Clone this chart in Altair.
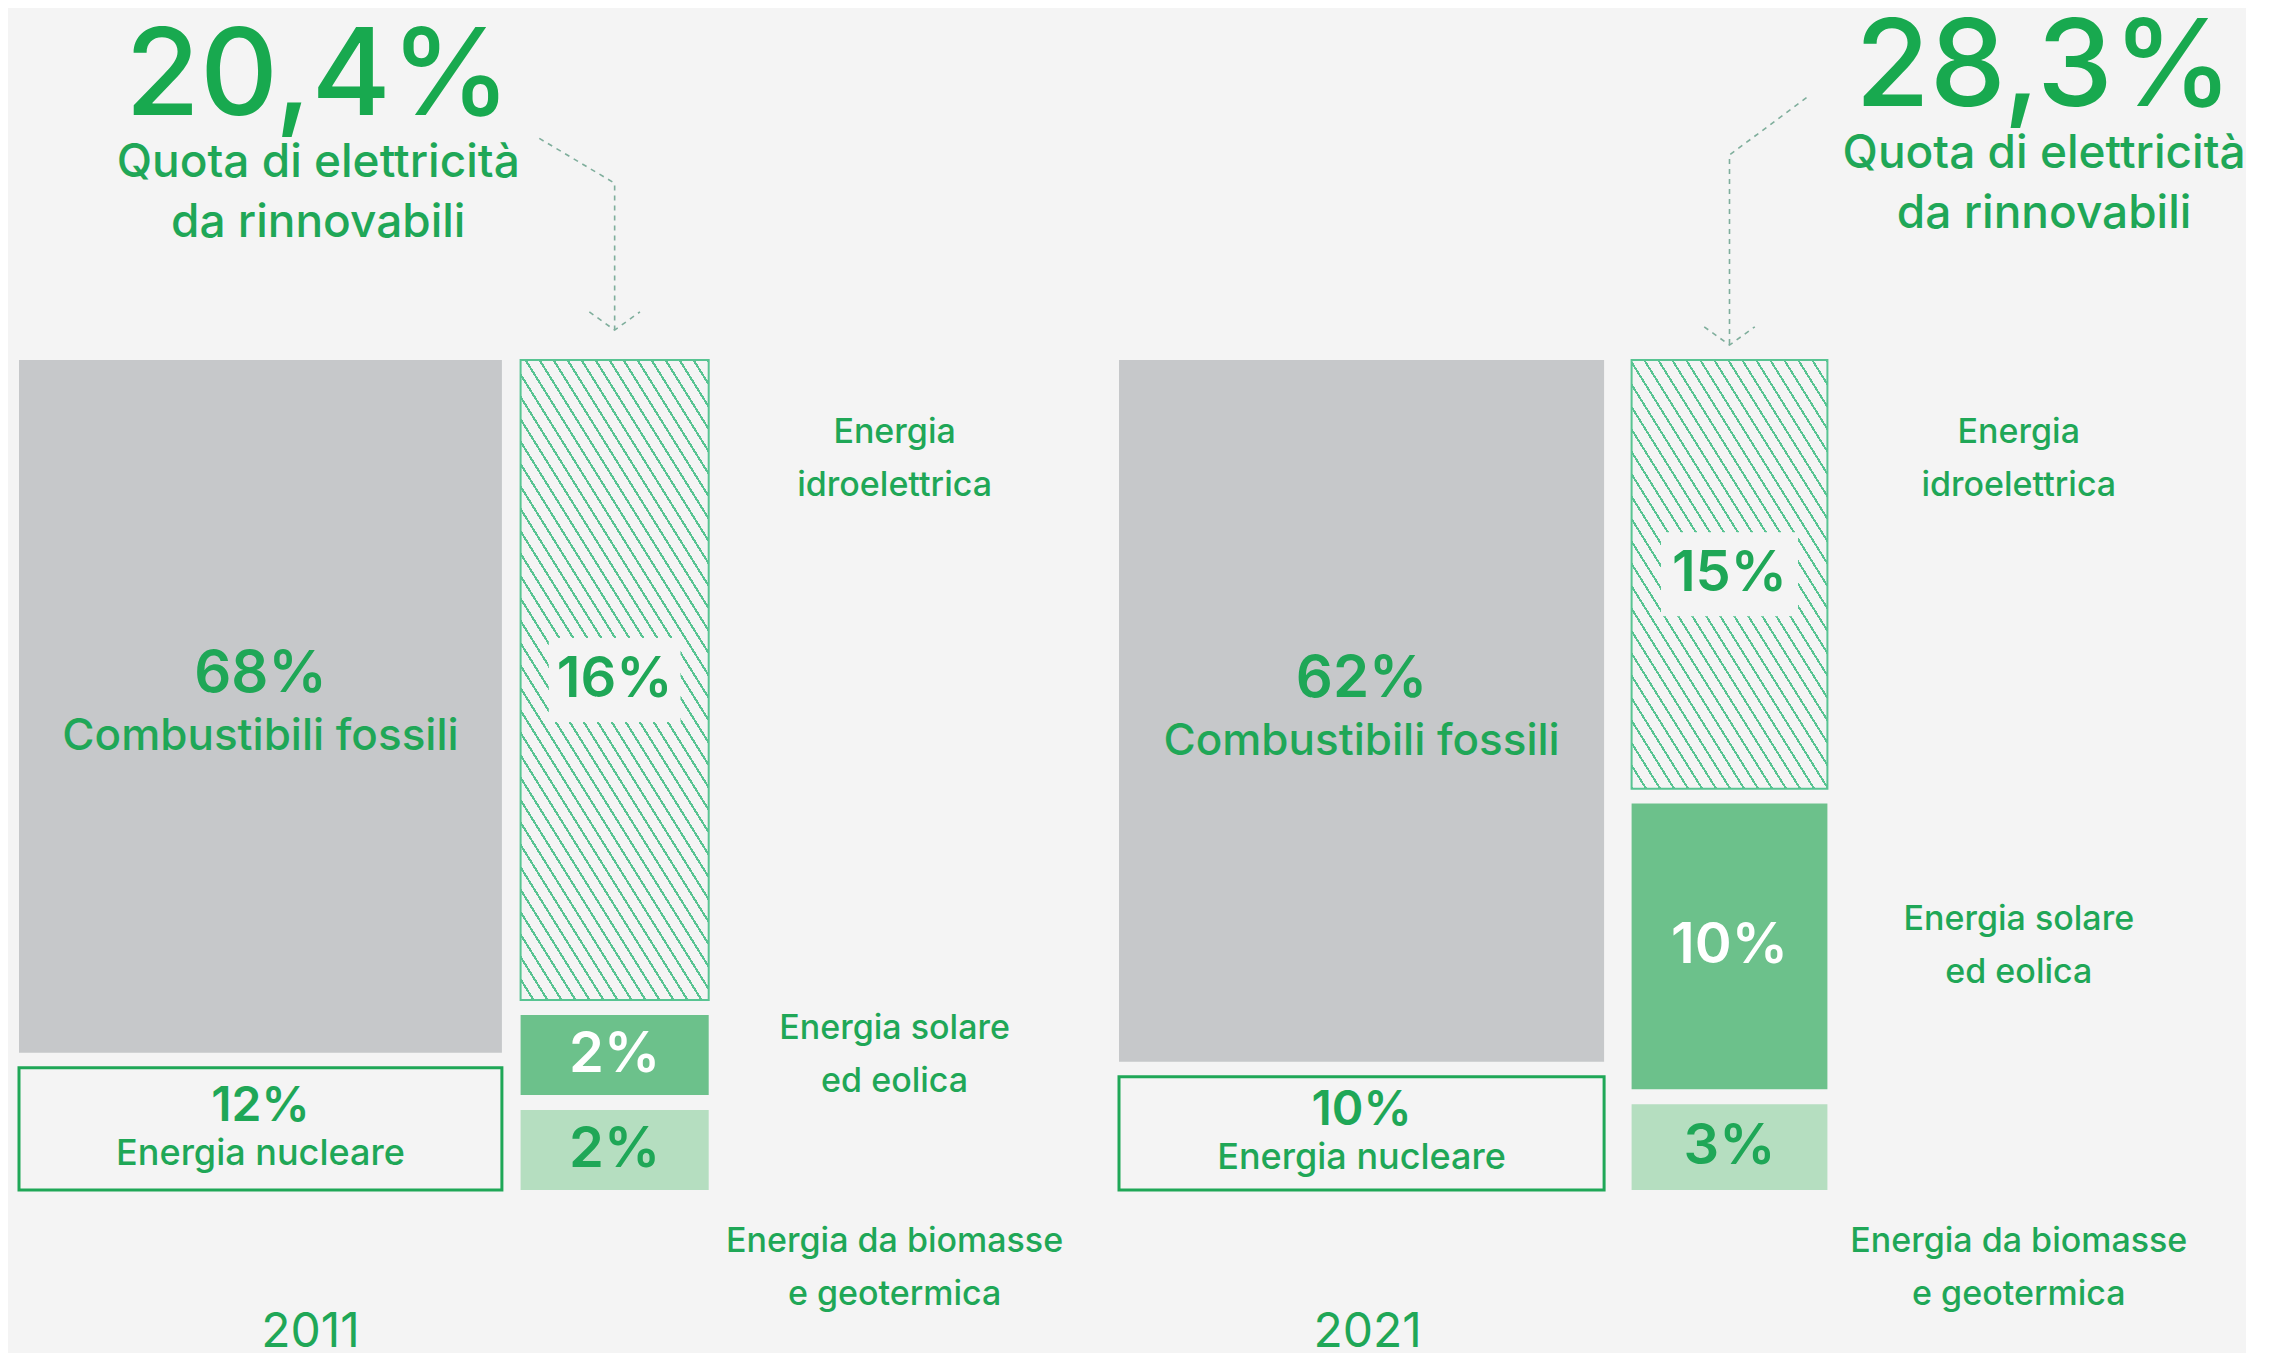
import altair as alt
import pandas as pd

# ---------------- dati ----------------
ANNI = ["2011", "2021"]
QUOTA_RINNOVABILI = ["20,4%", "28,3%"]
SOTTOTITOLO = ["Quota di elettricità", "da rinnovabili"]
CATEGORIE = ["Combustibili fossili", "Energia nucleare", "Energia idroelettrica",
             "Energia solare ed eolica", "Energia da biomasse e geotermica"]
ETICHETTE = ["Combustibili fossili", "Energia nucleare", "Energia\nidroelettrica",
             "Energia solare\ned eolica", "Energia da biomasse\ne geotermica"]
COLONNA = ["sx", "sx", "dx", "dx", "dx"]
ORDINE = [1, 2, 1, 2, 3]
VALORI_2011 = [68, 12, 16, 2, 2]
VALORI_2021 = [62, 10, 15, 10, 3]
VALORI = [VALORI_2011, VALORI_2021]

# ---------------- stile / layout ----------------
BG = "#f4f4f4"
VERDE = "#1fa757"
VERDE_TITOLO = "#18a94f"
GRIGIO = "#c6c8ca"
SOLARE = "#6cc18b"
BIOMASSE = "#b5dec0"
TRATTEGGIO = "#58c492"
FRECCIA = "#7fae9c"
FONT = "Inter"

PANEL_W = 1100
PANEL_H = 1337
GAP = 1.8                     # spazio tra i blocchi (unità di colonna)
X_DOMAIN = [0, 100]
Y_DOMAIN = [-18.675, 142.41]  # 0..100 = altezza delle colonne
LINE_H = 53
ANCORA = {"Energia idroelettrica": "alto", "Energia solare ed eolica": "centro",
          "Energia da biomasse e geotermica": "sotto"}
LAYOUT = {
    "2011": {"sx": (1.0, 44.9), "dx": (46.6, 63.7), "label_x": 80.6, "year_x": 27.5,
             "head_x": 28.2, "head_y": 129.5, "arrow_start": (48.3, 126.7), "knee_y": 121.3,
             "tip_y": 103.6},
    "2021": {"sx": (1.0, 45.1), "dx": (47.6, 65.4), "label_x": 82.8, "year_x": 23.6,
             "head_x": 85.1, "head_y": 130.6, "arrow_start": (63.5, 131.6), "knee_y": 124.7,
             "tip_y": 101.8},
}
SLOPE = 1.6        # pendenza del tratteggio
HATCH_STEP = 14.0  # passo orizzontale (px)
HATCH_LINE = 2.4   # spessore orizzontale (px)

xs = alt.Scale(domain=X_DOMAIN, nice=False, zero=False)
ys = alt.Scale(domain=Y_DOMAIN, nice=False, zero=False)


def hatch_gradient(i):
    anno = ANNI[i]
    vals = VALORI[i]
    dx_tot = sum(v for v, c in zip(vals, COLONNA) if c == "dx")
    n_dx = COLONNA.count("dx")
    disp = 100 - (n_dx - 1) * GAP
    h_units = vals[2] / dx_tot * disp
    h_px = h_units * PANEL_H / (Y_DOMAIN[1] - Y_DOMAIN[0])
    x0, x1 = LAYOUT[anno]["dx"]
    w_px = (x1 - x0) * PANEL_W / (X_DOMAIN[1] - X_DOMAIN[0])
    k = SLOPE * w_px / h_px
    c = (k + 1) / (k * k + 1)
    dt = k / (k + 1) * HATCH_STEP / w_px
    f = HATCH_LINE / HATCH_STEP
    stops = []
    t = 0.0
    while t < 1:
        a = round(t, 5)
        b = round(min(t + f * dt, 1), 5)
        e = round(min(t + dt, 1), 5)
        stops += [{"offset": a, "color": TRATTEGGIO}, {"offset": b, "color": TRATTEGGIO},
                  {"offset": b, "color": BG}, {"offset": e, "color": BG}]
        t += dt
    return {"gradient": "linear", "x1": 1, "y1": 0, "x2": round(1 - k * c, 5),
            "y2": round(c, 5), "stops": stops}


def panel(i):
    anno = ANNI[i]
    L = LAYOUT[anno]
    df = pd.DataFrame({
        "categoria": CATEGORIE, "etichetta": ETICHETTE, "colonna": COLONNA,
        "ordine": ORDINE, "valore": VALORI[i],
        "ancora": [ANCORA.get(c, "") for c in CATEGORIE],
    })
    base = (
        alt.Chart(df)
        .transform_joinaggregate(tot="sum(valore)", n="count()", groupby=["colonna"])
        .transform_window(cum="sum(valore)", rango="row_number()", groupby=["colonna"],
                          sort=[alt.SortField(field="ordine", order="ascending")],
                          frame=[None, 0])
        .transform_calculate(
            disp=f"100 - (datum.n - 1) * {GAP}",
            alto=f"100 - (datum.cum - datum.valore) / datum.tot * datum.disp - (datum.rango - 1) * {GAP}",
            basso="datum.alto - datum.valore / datum.tot * datum.disp",
            medio="(datum.alto + datum.basso) / 2",
            x0=f"datum.colonna == 'sx' ? {L['sx'][0]} : {L['dx'][0]}",
            x1=f"datum.colonna == 'sx' ? {L['sx'][1]} : {L['dx'][1]}",
            xm="(datum.x0 + datum.x1) / 2",
            px0="datum.x0 + 0.15 * (datum.x1 - datum.x0)",
            px1="datum.x1 - 0.15 * (datum.x1 - datum.x0)",
            xl=f"{L['label_x']}",
            yl="datum.ancora == 'alto' ? datum.alto - 12 : (datum.ancora == 'centro' ? datum.medio : -9.5)",
            testo="datum.valore + '%'",
        )
    )
    enc = dict(
        x=alt.X("x0:Q", scale=xs, axis=None), x2=alt.X2("x1"),
        y=alt.Y("alto:Q", scale=ys, axis=None), y2=alt.Y2("basso"),
    )
    fossili_f = f"datum.categoria == '{CATEGORIE[0]}'"
    nucleare_f = f"datum.categoria == '{CATEGORIE[1]}'"
    idro_f = f"datum.categoria == '{CATEGORIE[2]}'"
    blocchi = base.transform_filter(f"datum.categoria != '{CATEGORIE[2]}'").mark_rect().encode(
        **enc,
        color=alt.Color("categoria:N", legend=None,
                        scale=alt.Scale(domain=CATEGORIE, range=[GRIGIO, BG, BG, SOLARE, BIOMASSE])),
    )
    nucleare = base.transform_filter(nucleare_f).mark_rect(
        fillOpacity=0, stroke=VERDE, strokeWidth=3).encode(**enc)
    idro = base.transform_filter(idro_f).mark_rect(
        fill=hatch_gradient(i), stroke=TRATTEGGIO, strokeWidth=2).encode(**enc)
    patch = base.transform_filter(idro_f).mark_rect(fill=BG, yOffset=-42, y2Offset=42).encode(
        x=alt.X("px0:Q", scale=xs, axis=None), x2=alt.X2("px1"),
        y=alt.Y("medio:Q", scale=ys, axis=None), y2=alt.Y2("medio"),
    )
    pos_c = dict(x=alt.X("xm:Q", scale=xs, axis=None), y=alt.Y("medio:Q", scale=ys, axis=None))
    val_fos = base.transform_filter(fossili_f).mark_text(
        font=FONT, fontWeight=600, fontSize=58, dy=-31, baseline="middle", color=VERDE
    ).encode(**pos_c, text="testo:N")
    lab_fos = base.transform_filter(fossili_f).mark_text(
        font=FONT, fontWeight=500, fontSize=44, dy=31, baseline="middle", color=VERDE
    ).encode(**pos_c, text="etichetta:N")
    val_nuc = base.transform_filter(nucleare_f).mark_text(
        font=FONT, fontWeight=600, fontSize=48, dy=-22, baseline="middle", color=VERDE
    ).encode(**pos_c, text="testo:N")
    lab_nuc = base.transform_filter(nucleare_f).mark_text(
        font=FONT, fontWeight=500, fontSize=36, dy=25, baseline="middle", color=VERDE
    ).encode(**pos_c, text="etichetta:N")
    val_dx = base.transform_filter("datum.colonna == 'dx'").mark_text(
        font=FONT, fontWeight=600, fontSize=56, baseline="middle"
    ).encode(**pos_c, text="testo:N",
             color=alt.condition(f"datum.categoria == '{CATEGORIE[3]}'", alt.value("white"), alt.value(VERDE)))
    lab_dx = base.transform_filter("datum.colonna == 'dx'").mark_text(
        font=FONT, fontWeight=500, fontSize=34, lineBreak="\n", lineHeight=LINE_H,
        baseline="middle", dy=-LINE_H / 2, color=VERDE
    ).encode(x=alt.X("xl:Q", scale=xs, axis=None), y=alt.Y("yl:Q", scale=ys, axis=None),
             text="etichetta:N")

    hx, hy = L["head_x"], L["head_y"]
    tit = alt.Chart(pd.DataFrame({"t": [QUOTA_RINNOVABILI[i]], "x": [hx], "y": [hy]})).mark_text(
        font=FONT, fontWeight=500, fontSize=121, color=VERDE_TITOLO, baseline="alphabetic"
    ).encode(x=alt.X("x:Q", scale=xs, axis=None), y=alt.Y("y:Q", scale=ys, axis=None), text="t:N")
    sub = alt.Chart(pd.DataFrame({"t": SOTTOTITOLO, "x": [hx, hx], "y": [hy - 7.45, hy - 14.7]})).mark_text(
        font=FONT, fontWeight=500, fontSize=46, color=VERDE, baseline="alphabetic"
    ).encode(x=alt.X("x:Q", scale=xs, axis=None), y=alt.Y("y:Q", scale=ys, axis=None), text="t:N")
    anno_t = alt.Chart(pd.DataFrame({"t": [anno], "x": [L["year_x"]], "y": [-18.9]})).mark_text(
        font=FONT, fontWeight=400, fontSize=48, color=VERDE, baseline="alphabetic"
    ).encode(x=alt.X("x:Q", scale=xs, axis=None), y=alt.Y("y:Q", scale=ys, axis=None), text="t:N")

    tipx = (L["dx"][0] + L["dx"][1]) / 2
    tipy = L["tip_y"]
    sx_, sy_ = L["arrow_start"]
    arrow_df = pd.DataFrame({
        "p": ["a", "a", "a", "b", "b", "b"],
        "o": [0, 1, 2, 0, 1, 2],
        "x": [sx_, tipx, tipx, tipx - 2.3, tipx, tipx + 2.3],
        "y": [sy_, L["knee_y"], tipy, tipy + 2.2, tipy, tipy + 2.2],
    })
    freccia = alt.Chart(arrow_df).mark_line(strokeDash=[5, 5], strokeWidth=1.6, color=FRECCIA).encode(
        x=alt.X("x:Q", scale=xs, axis=None), y=alt.Y("y:Q", scale=ys, axis=None),
        detail="p:N", order="o:Q")

    return alt.layer(blocchi, nucleare, idro, patch, val_fos, lab_fos, val_nuc, lab_nuc,
                     val_dx, lab_dx, tit, sub, anno_t, freccia).properties(width=PANEL_W, height=PANEL_H)


chart = (
    alt.hconcat(panel(0), panel(1), spacing=0, bounds="flush")
    .properties(padding=0, background=BG)
    .configure_view(strokeWidth=0)
)

chart.save("out.html", embed_options={"renderer": "svg", "actions": False})
